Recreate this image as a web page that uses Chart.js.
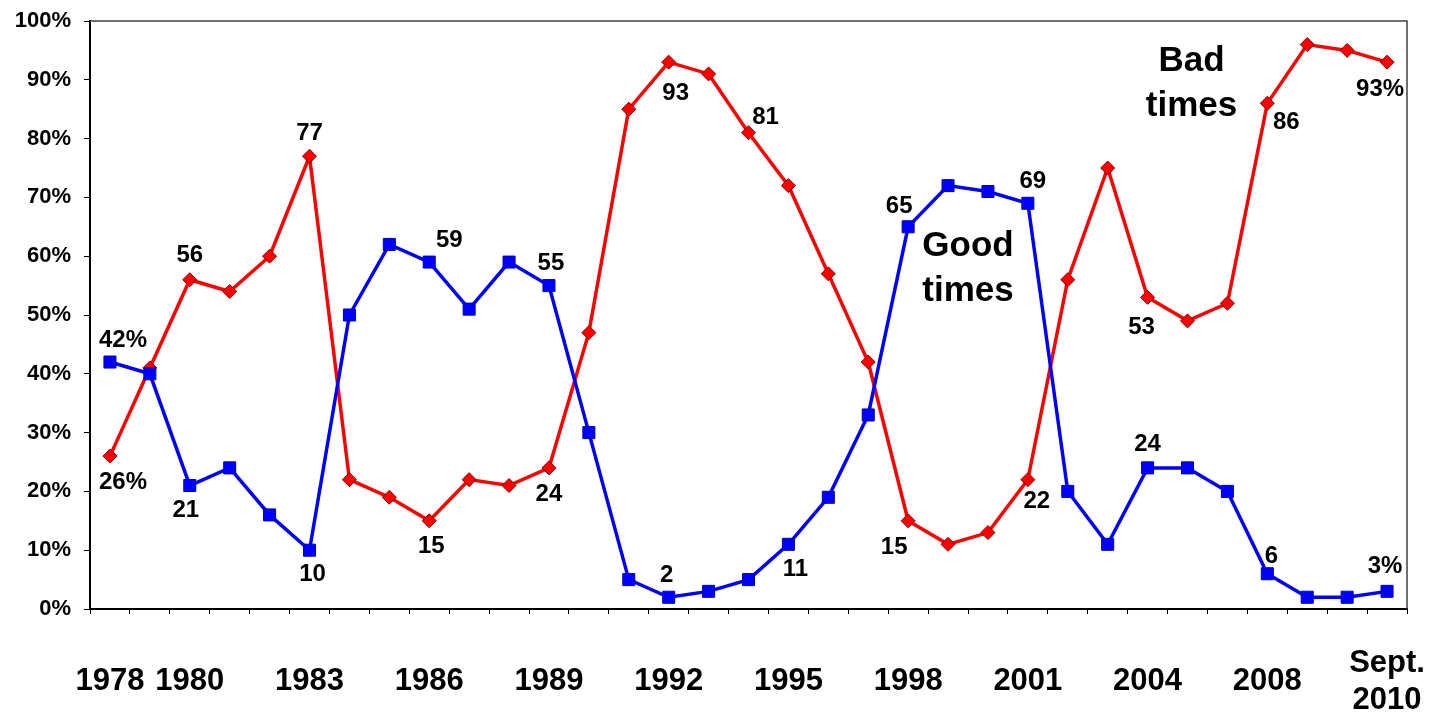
<!DOCTYPE html>
<html>
<head>
<meta charset="utf-8">
<script src="https://cdn.jsdelivr.net/npm/chart.js@4/dist/chart.umd.min.js"></script>
<style>
html,body{margin:0;padding:0;background:#fff;}
#wrap{width:1435px;height:715px;position:relative;}
</style>
</head>
<body>
<div id="wrap"><canvas id="c" width="1435" height="715"></canvas></div>
<script>
// ---- data ----
const categories = ["1978","1979","1980","1981","1982","1983","1984","1985","1986","1987","1988","1989","1990","1991","1992","1993","1994","1995","1996","1997","1998","1999","2000","2001","2002","2003","2004","2005","2006","2008","2009","2010","Sept. 2010"];
const tickLabels = ["1978","","1980","","","1983","","","1986","","","1989","","","1992","","","1995","","","1998","","","2001","","","2004","","","2008","","",["Sept.","2010"]];
const goodTimes = [42,40,21,24,16,10,50,62,59,51,59,55,30,5,2,3,5,11,19,33,65,72,71,69,20,11,24,24,20,6,2,2,3];
const badTimes  = [26,41,56,54,60,77,22,19,15,22,21,24,47,85,93,91,81,72,57,42,15,11,13,22,56,75,53,49,52,86,96,95,93];
const yTicks = [0,10,20,30,40,50,60,70,80,90,100];
const goodLabelIdx = [0,2,5,8,11,14,17,20,23,26,29,32];
const badLabelIdx  = [0,2,5,8,11,14,16,20,23,26,29,32];
const seriesNames = ["Good times","Bad times"];

// ---- label offsets (style) ----
const goodOffsets = [[13,-22],[-4,25],[3,24],[20,-22],[2,-22],[-2,-22],[7,25],[-9,-20],[5,-22],[0,-24],[4,-17],[-2,-25]];
const badOffsets  = [[13,26],[0,-24],[0,-23],[2,26],[0,26],[7,31],[17,-15],[-14,27],[9,22],[-6,30],[19,19],[-7,27]];
const annotations = [
  {lines:["Bad","times"], x:27.1, y:[91.5,83.8]},
  {lines:["Good","times"], x:21.5, y:[60.1,52.3]}
];

const FONT = '"Liberation Sans", Arial, Helvetica, sans-serif';

const labelPlugin = {
  id:'pointLabels',
  afterDatasetsDraw(chart){
    const ctx = chart.ctx;
    ctx.save();
    ctx.fillStyle = '#000';
    ctx.font = 'bold 24px ' + FONT;
    ctx.textAlign = 'center';
    ctx.textBaseline = 'middle';
    const sets = [[0, goodLabelIdx, goodOffsets, goodTimes],[1, badLabelIdx, badOffsets, badTimes]];
    sets.forEach(([di, idxs, offs, vals]) => {
      const meta = chart.getDatasetMeta(di);
      idxs.forEach((i, k) => {
        const el = meta.data[i];
        let txt = String(vals[i]);
        if (i === 0 || i === vals.length - 1) txt += '%';
        ctx.fillText(txt, el.x + offs[k][0], el.y + offs[k][1]);
      });
    });
    // annotations
    ctx.font = 'bold 35px ' + FONT;
    ctx.textBaseline = 'alphabetic';
    const xs = chart.scales.x, ys = chart.scales.y;
    annotations.forEach(a => {
      const px = xs.getPixelForValue(a.x);
      a.lines.forEach((t, j) => ctx.fillText(t, px, ys.getPixelForValue(a.y[j])));
    });
    ctx.restore();
  },
  beforeDatasetsDraw(chart){
    const {ctx, chartArea:ca} = chart;
    ctx.save();
    ctx.strokeStyle = '#404040';
    ctx.lineWidth = 1.5;
    ctx.beginPath();
    ctx.moveTo(ca.left, ca.top);
    ctx.lineTo(ca.right, ca.top);
    ctx.lineTo(ca.right, ca.bottom);
    ctx.stroke();
    ctx.restore();
  }
};

new Chart(document.getElementById('c'), {
  type:'line',
  data:{
    labels: categories,
    datasets:[
      {label:seriesNames[0], data:goodTimes, borderColor:'#0000FF', backgroundColor:'#0000FF',
       borderWidth:3.5, pointStyle:'rect', pointRadius:8.5, pointBorderColor:'#0000B0', pointBorderWidth:1,
       pointBackgroundColor:'#0000FF', tension:0},
      {label:seriesNames[1], data:badTimes, borderColor:'#FF0000', backgroundColor:'#FF0000',
       borderWidth:3.5, pointStyle:'rectRot', pointRadius:7, pointBorderColor:'#800000', pointBorderWidth:1,
       pointBackgroundColor:'#FF0000', tension:0}
    ]
  },
  options:{
    responsive:false,
    animation:false,
    layout:{padding:{top:21,right:28,left:0,bottom:0}},
    plugins:{legend:{display:false}, tooltip:{enabled:false}},
    scales:{
      x:{
        offset:true,
        grid:{offset:true, drawOnChartArea:false, drawTicks:true, tickLength:5, color:'#000', lineWidth:1},
        border:{color:'#000', width:2},
        ticks:{autoSkip:false, maxRotation:0, minRotation:0, padding:49, color:'#000',
          crossAlign:'center',
          font:{family:FONT, size:31, weight:'bold', lineHeight:1.2},
          callback:(v,i)=>tickLabels[i]},
        afterFit:s=>{s.height = 106; s.paddingLeft = 0; s.paddingRight = 0;}
      },
      y:{
        min:0, max:100,
        afterBuildTicks:s=>{s.ticks = yTicks.map(v=>({value:v}));},
        grid:{drawOnChartArea:false, drawTicks:true, tickLength:6, color:'#000', lineWidth:1},
        border:{color:'#000', width:2},
        ticks:{padding:13, color:'#000', font:{family:FONT, size:22, weight:'bold'},
          callback:v=>v+'%'},
        afterFit:s=>{s.width = 90; s.paddingTop = 0; s.paddingBottom = 0;}
      }
    }
  },
  plugins:[labelPlugin]
});
</script>
</body>
</html>
